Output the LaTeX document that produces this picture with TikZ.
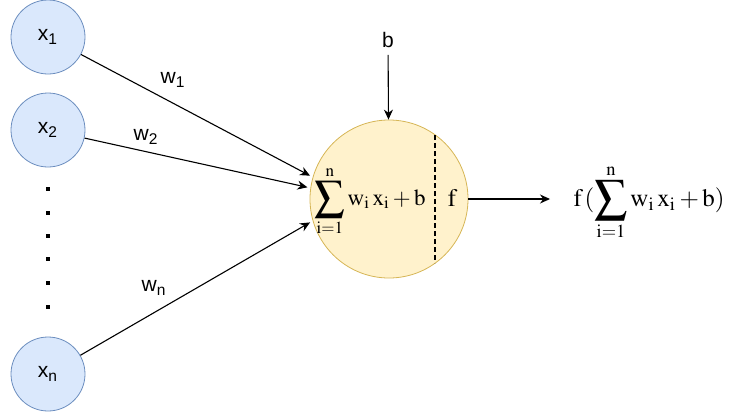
\documentclass[tikz,border=0pt]{standalone}
\usepackage{amsmath}
\usepackage{mathptmx}
\usepackage[no-math]{fontspec}
\setmainfont{Liberation Sans}
\usetikzlibrary{arrows.meta}

\definecolor{inblue}{HTML}{DAE8FC}
\definecolor{inbluedraw}{HTML}{6C8EBF}
\definecolor{sumyellow}{HTML}{FFF2CC}
\definecolor{sumyellowdraw}{HTML}{D6B656}

\newcommand{\bigsum}{\mathop{\vcenter{\hbox{\scalebox{1.3}{$\displaystyle\sum$}}}}\limits}

\begin{document}
\begin{tikzpicture}[>={Stealth[length=5pt,width=4.5pt]}, x=0.5pt, y=-0.5pt, line width=0.55pt,
    input/.style={circle, draw=inbluedraw, fill=inblue, line width=0.4pt, minimum size=37pt, inner sep=0pt, font=\fontsize{10.5}{12}\selectfont},
    neuron/.style={circle, draw=sumyellowdraw, fill=sumyellow, line width=0.4pt, minimum size=79pt, inner sep=0pt},
    lbl/.style={font=\fontsize{10.5}{12}\selectfont},
    formula/.style={font=\fontsize{12.5}{14}\selectfont, inner sep=1pt},
    dotmark/.style={fill=black, minimum size=1.6pt, inner sep=0pt}]
    \useasboundingbox (0,0) rectangle (733,418);

    \node[input] (x1) at (48,37) {x\textsubscript{1}};
    \node[input] (x2) at (48,130) {x\textsubscript{2}};
    \node[input] (xn) at (48,374) {x\textsubscript{n}};
    \foreach \y [count=\i] in {189,213,236,259,283,307}
        \node[dotmark] (dot\i) at (48,\y) {};

    \node[neuron] (sum) at (389,199) {};
    \node[formula, font=\fontsize{11.5}{13}\selectfont] (sumtext) at (370,201) {$\bigsum_{\mathrm{i=1}}^{\mathrm{n}}\mathrm{w_i\,x_i}+\mathrm{b}$};
    \node[formula] (act) at (452,198) {$\mathrm{f}$};
    \coordinate (cuttop) at (435,135);
    \coordinate (cutbot) at (435,263);
    \draw[dashed, dash pattern=on 2.4pt off 1.6pt, line width=0.7pt] (cuttop) -- (cutbot);

    \node[lbl] (b) at (388,40) {b};
    \node[formula, anchor=west, inner xsep=0pt] (out) at (573,202) {$\mathrm{f}\,(\bigsum_{\mathrm{i=1}}^{\mathrm{n}}\mathrm{w_i\,x_i}+\mathrm{b})$};

    \node[lbl] (w1) at (173,80) {w\textsubscript{1}};
    \node[lbl] (w2) at (146,137) {w\textsubscript{2}};
    \node[lbl] (wn) at (154,288) {w\textsubscript{n}};

    \draw[->, shorten >=1.5pt] (x1) -- (sum.164);
    \draw[->, shorten >=1.5pt] (x2) -- (sum.172);
    \draw[->, shorten >=1.5pt] (xn) -- (sum.196);
    \draw[->] (b) -- (sum);
    \draw[->, shorten >=11.5pt] (sum) -- (sum.east -| out.west);
\end{tikzpicture}
\end{document}
